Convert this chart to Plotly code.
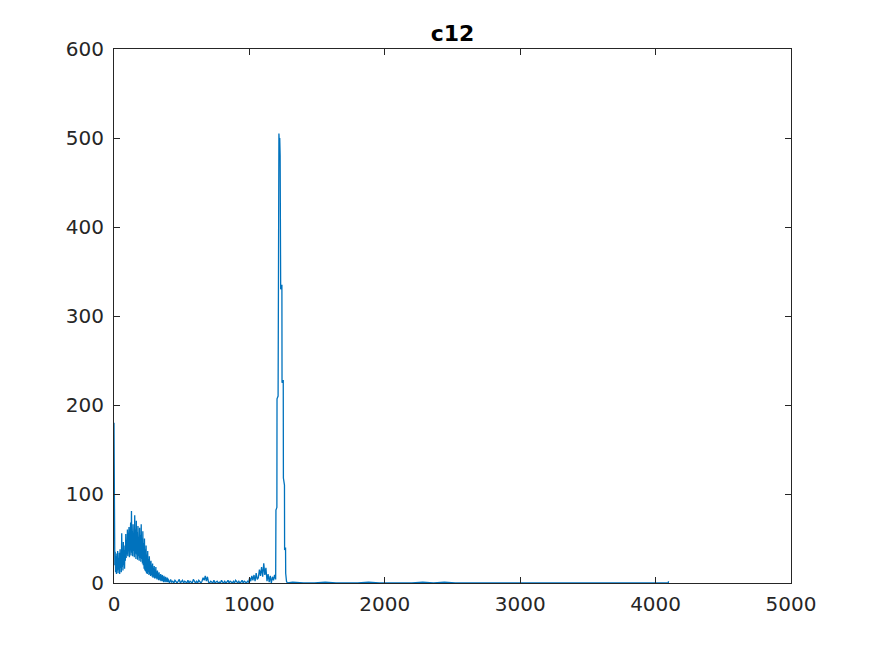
import numpy as np
import plotly.graph_objects as go

# ---- data (channel, counts) ----
# Segment A: channels 0..399, sampled every 3 channels
segA_start, segA_step = 0, 3
segA_counts = [180, 73, 20, 35, 12, 30, 10, 33, 14, 36, 11, 28, 15, 34, 10, 38, 17, 30, 12, 56,
               18, 35, 14, 46, 20, 37, 16, 42, 25, 55, 28, 48, 32, 60, 30, 52, 35, 63, 29, 50,
               33, 68, 31, 81, 34, 58, 30, 66, 36, 55, 29, 76, 33, 60, 27, 70, 32, 57, 26, 64,
               30, 52, 25, 62, 28, 54, 24, 66, 27, 50, 22, 58, 20, 45, 16, 50, 14, 38, 13, 42,
               11, 32, 10, 36, 12, 27, 9, 30, 10, 24, 8, 25, 9, 20, 7, 22, 6, 17, 7, 19,
               5, 15, 6, 18, 5, 13, 4, 14, 5, 11, 3, 12, 4, 9, 3, 10, 2, 8, 3, 9,
               2, 7, 1, 8, 2, 6, 1, 7, 2, 5, 1, 6, 1, 5]

# Segment B: channels 402..1194, sampled every 8 channels
segB_start, segB_step = 402, 8
segB_counts = [3, 0, 4, 1, 2, 0, 3, 1, 0, 2, 4, 0, 1, 3, 0, 2, 1, 0, 3, 0, 2, 1, 0, 4, 1, 0, 2, 0, 3, 1, 0,
               2, 6, 3, 8, 2, 7, 1,
               0, 2, 1, 0, 3, 0, 1, 2, 0, 1, 0, 3, 1, 0, 2, 0, 1, 3, 0, 2, 1, 0, 2, 0, 3, 1, 0, 2, 0, 1, 3, 0, 2, 1, 0, 2,
               1, 6, 2, 8, 3, 9, 2, 11, 4,
               6, 15, 8, 18, 7, 22, 9, 17,
               2, 10, 1, 8, 0, 7,
               3, 9, 4]

# Segment C: the main peak
peak_channels = [1196, 1203, 1204, 1212, 1213, 1217, 1218, 1221, 1224, 1227, 1231, 1240,
                 1241, 1250, 1251, 1259, 1260, 1267, 1268, 1274, 1280]
peak_counts = [82, 85, 207, 210, 397, 380, 505, 495, 500, 480, 330, 335,
               225, 228, 118, 110, 37, 40, 11, 2, 0]

# Segment D: flat tail up to channel 4095
tail_channels = [1320, 1400, 1480, 1560, 1640, 1720, 1800, 1880, 1960, 2040, 2120, 2200, 2280,
                 2360, 2440, 2520, 2600, 2680, 2760, 2840, 2920, 3000, 3080, 3160, 3240, 3320,
                 3400, 3480, 3560, 3640, 3720, 3800, 3880, 3960, 4040, 4094, 4095]
tail_counts = [1, 0, 0, 1, 0, 0, 0, 1, 0, 0, 0, 0, 1, 0, 1, 0, 0, 0, 0, 0, 0, 0, 0, 0, 0, 0,
               0, 0, 0, 0, 0, 0, 0, 0, 0, 0, 2]

x_ticks = [0, 1000, 2000, 3000, 4000, 5000]
y_ticks = [0, 100, 200, 300, 400, 500, 600]
title_text = "c12"

# ---- assemble ----
xA = [segA_start + segA_step * i for i in range(len(segA_counts))]
xB = [segB_start + segB_step * i for i in range(len(segB_counts))]
x = xA + xB + peak_channels + tail_channels
y = segA_counts + segB_counts + peak_counts + tail_counts

axis_color = "#262626"
font_family = "DejaVu Sans"

fig = go.Figure(go.Scatter(x=x, y=y, mode="lines",
                           line=dict(color="#0072BD", width=1.3), hoverinfo="skip"))

common = dict(showgrid=False, zeroline=False, showline=True, linecolor=axis_color, linewidth=1,
              mirror="ticks", ticks="inside", ticklen=6, tickcolor=axis_color,
              tickfont=dict(family=font_family, size=20, color=axis_color))

fig.update_xaxes(range=[0, 5000], tickvals=x_ticks, ticktext=[str(v) for v in x_ticks],
                 ticklabelstandoff=3, **common)
fig.update_yaxes(range=[0, 600], tickvals=y_ticks, ticktext=[str(v) for v in y_ticks],
                 ticklabelstandoff=5, **common)

W, H, OFF = 867, 648, 8
fig.update_layout(
    width=W, height=H,
    margin=dict(l=114 - OFF, r=W + OFF - 791, t=49 - OFF, b=H + OFF - 583),
    paper_bgcolor="white", plot_bgcolor="white",
    showlegend=False,
    title=dict(text="<b>" + title_text + "</b>", x=((114 + 791) / 2 - OFF) / W, xanchor="center",
               y=1 - (33 - OFF) / H, yanchor="middle", yref="container",
               font=dict(family=font_family, size=22, color="black")),
)

fig.write_html("out.html")
